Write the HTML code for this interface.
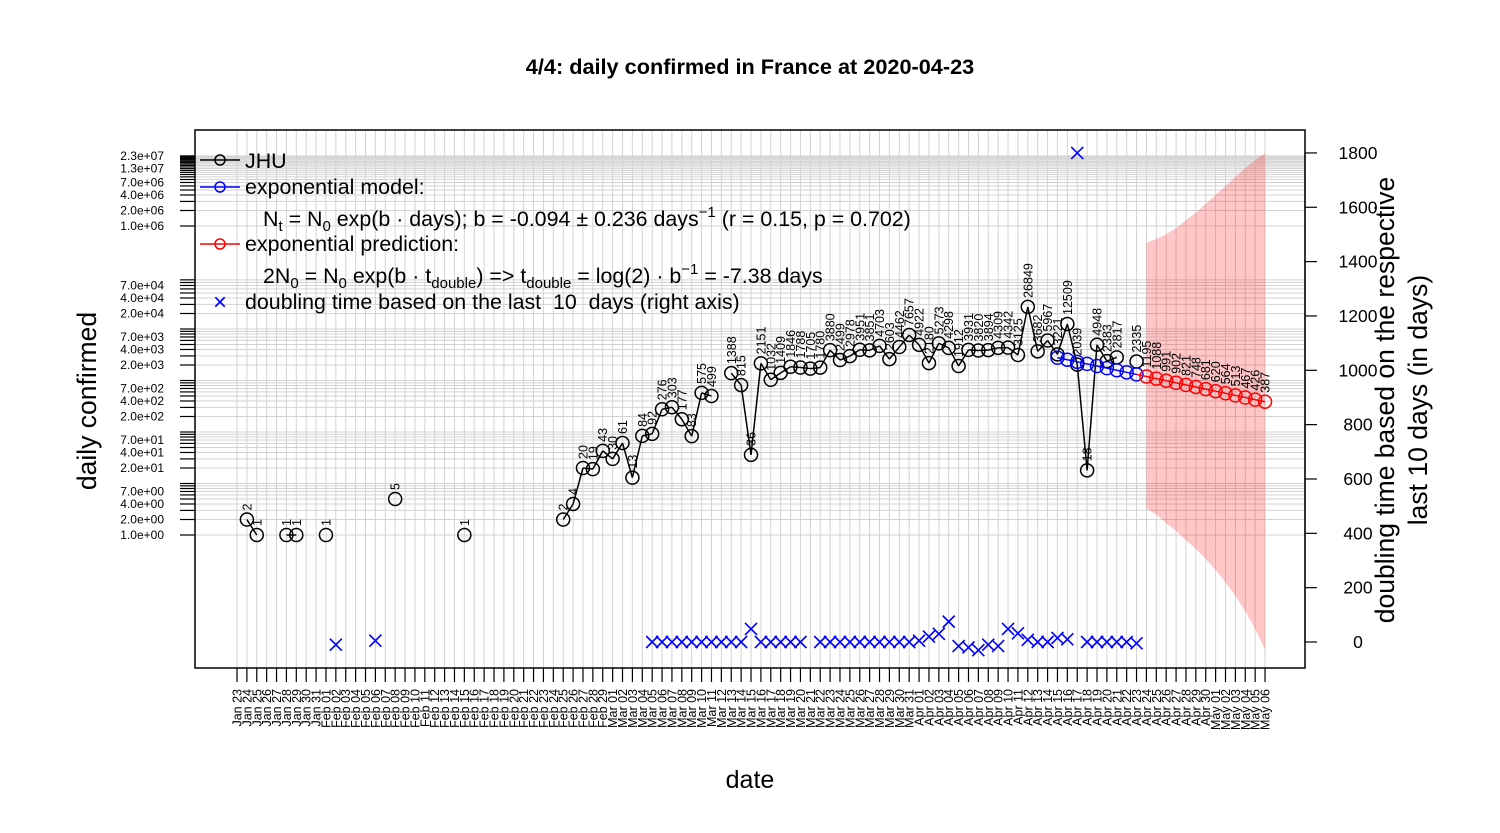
<!DOCTYPE html>
<html><head><meta charset="utf-8"><style>
body{margin:0;background:#fff}
svg{display:block;font-family:"Liberation Sans",sans-serif}
svg text{white-space:pre}
</style></head><body>
<svg id="chart" width="1500" height="833" viewBox="0 0 1500 833" xmlns="http://www.w3.org/2000/svg" xml:space="preserve">
<text x="750" y="74" text-anchor="middle" font-size="21.7" font-weight="bold">4/4: daily confirmed in France at 2020-04-23</text>
<g id="grid"></g>
<g id="band"></g>
<g id="marks"></g>
<rect x="195" y="130" width="1110" height="538" fill="none" stroke="#000" stroke-width="1.5"/>
<g id="axes"></g>
<text transform="translate(96,401) rotate(-90)" text-anchor="middle" font-size="26.5">daily confirmed</text>
<text transform="translate(1394,400) rotate(-90)" text-anchor="middle" font-size="26.5">doubling time based on the respective</text>
<text transform="translate(1427,400) rotate(-90)" text-anchor="middle" font-size="26.5">last 10 days (in days)</text>
<text x="750" y="788" text-anchor="middle" font-size="25">date</text>
<g font-size="21.4">
 <line x1="200" y1="160" x2="240" y2="160" stroke="#000" stroke-width="1.5"/><circle cx="220" cy="160" r="5" fill="none" stroke="#000" stroke-width="1.5"/>
 <text x="245" y="168">JHU</text>
 <line x1="200" y1="187" x2="240" y2="187" stroke="#00f" stroke-width="1.5"/><circle cx="220" cy="187" r="5" fill="none" stroke="#00f" stroke-width="1.5"/>
 <text x="245" y="194">exponential model:</text>
 <text x="263" y="226">N<tspan font-size="15" dy="5">t</tspan><tspan dy="-5"> = N</tspan><tspan font-size="15" dy="5">0</tspan><tspan dy="-5"> exp(b · days); b = -0.094 ± 0.236 days</tspan><tspan font-size="15" dy="-9">−1</tspan><tspan dy="9"> (r = 0.15, p = 0.702)</tspan></text>
 <line x1="200" y1="244" x2="240" y2="244" stroke="#f00" stroke-width="1.5"/><circle cx="220" cy="244" r="5" fill="none" stroke="#f00" stroke-width="1.5"/>
 <text x="245" y="251">exponential prediction:</text>
 <text x="263" y="283">2N<tspan font-size="15" dy="5">0</tspan><tspan dy="-5"> = N</tspan><tspan font-size="15" dy="5">0</tspan><tspan dy="-5"> exp(b · t</tspan><tspan font-size="15" dy="5">double</tspan><tspan dy="-5">) =&gt; t</tspan><tspan font-size="15" dy="5">double</tspan><tspan dy="-5"> = log(2) · b</tspan><tspan font-size="15" dy="-9">−1</tspan><tspan dy="9"> = -7.38 days</tspan></text>
 <text x="220" y="310" text-anchor="middle" fill="#00f" font-size="24">×</text>
 <text x="245" y="309">doubling time based on the last  10  days (right axis)</text>
</g>
</svg>
<script>
const dateLabels=(function(){const m=["Jan","Feb","Mar","Apr","May"],d=[31,29,31,30,31];const out=[];let mi=0,dd=23;for(let i=0;i<105;i++){out.push(m[mi]+" "+String(dd).padStart(2,"0"));dd++;if(dd>d[mi]){dd=1;mi++;}}return out;})();
const jhuDays=[1,2,5,6,9,16,23,33,34,35,36,37,38,39,40,41,42,43,44,45,46,47,48,50,51,52,53,54,55,56,57,58,59,60,61,62,63,64,65,66,67,68,69,70,71,72,73,74,75,76,77,78,79,80,81,82,83,84,85,86,87,88,89,91];
const jhuValues=[2,1,1,1,1,5,1,2,4,20,19,43,30,61,13,84,92,276,303,177,83,575,499,1388,815,36,2151,1032,1409,1846,1788,1705,1780,3880,2499,2978,3951,3851,4703,2603,4462,7657,4922,2180,5273,4298,1912,3931,3820,3894,4309,4342,3125,26849,3682,5967,3221,12509,2039,18,4948,2383,2817,2335];
const modelDays=[83,84,85,86,87,88,89,90,91];
const modelValues=[2781,2532,2305,2098,1910,1739,1583,1441,1312];
const predDays=[92,93,94,95,96,97,98,99,100,101,102,103,104];
const predValues=[1195,1088,991,902,821,748,681,620,564,513,467,426,387];
const bandUpper=[4.7e5,5.6e5,6.9e5,9.1e5,1.3e6,1.8e6,2.7e6,4.0e6,6.0e6,8.9e6,1.35e7,1.9e7,2.6e7];
const bandLower=[3.3,2.5,1.7,1.2,0.79,0.54,0.34,0.21,0.12,0.066,0.033,0.015,0.0059];
const dblDays=[10,14,42,43,44,45,46,47,48,49,50,51,52,53,54,55,56,57,59,60,61,62,63,64,65,66,67,68,69,70,71,72,73,74,75,76,77,78,79,80,81,82,83,84,85,86,87,88,89,90,91];
const dblValues=[-10,5,0,0,0,0,0,0,0,0,0,0,48,0,0,0,0,0,0,0,0,0,0,0,0,0,0,0,5,20,30,75,-15,-20,-30,-10,-15,48,32,8,0,0,15,10,1800,0,0,0,0,0,-5];
const yTickLabels=["1.0e+00","2.0e+00","4.0e+00","7.0e+00","2.0e+01","4.0e+01","7.0e+01","2.0e+02","4.0e+02","7.0e+02","2.0e+03","4.0e+03","7.0e+03","2.0e+04","4.0e+04","7.0e+04","1.0e+06","2.0e+06","4.0e+06","7.0e+06","1.3e+07","2.3e+07"];
const y2Ticks=[0,200,400,600,800,1000,1200,1400,1600,1800];

const NS="http://www.w3.org/2000/svg";
const X=i=>237+i*9.885;
const Y=v=>535-Math.log10(v)*51.5;
const Y2=v=>642-v*0.2717;
function mk(tag,attrs,parent){const e=document.createElementNS(NS,tag);for(const k in attrs)e.setAttribute(k,attrs[k]);parent.appendChild(e);return e;}
const grid=document.getElementById("grid"),axes=document.getElementById("axes"),marks=document.getElementById("marks"),band=document.getElementById("band");
const minorTicks=[];
[0,1,2,3,4,6].forEach(d=>{for(let k=1;k<=9;k++)minorTicks.push(k*Math.pow(10,d));});
for(let k=10;k<=23;k++)minorTicks.push(k*1e6);
minorTicks.forEach(v=>{
 const y=Y(v);
 const g=mk("line",{x1:195,x2:1305,y1:y,y2:y,stroke:"#d3d3d3","stroke-width":1},grid);
 
 
 const t=mk("line",{x1:180,x2:195,y1:y,y2:y,stroke:"#000","stroke-width":1.2},axes);
 
 
});
yTickLabels.forEach(s=>{
 const v=parseFloat(s);
 const t=mk("text",{x:164,y:Y(v)+4,"text-anchor":"end","font-size":12},axes);
 t.textContent=s;
 
 
});
dateLabels.forEach((s,i)=>{
 const x=X(i);
 const g=mk("line",{x1:x,x2:x,y1:130,y2:668,stroke:"#d3d3d3","stroke-width":1},grid);
 
 
 const t=mk("line",{x1:x,x2:x,y1:668,y2:682,stroke:"#000","stroke-width":1.2},axes);
 
 
 const l=mk("text",{transform:`translate(${x+4.5},689) rotate(-90)`,"text-anchor":"end","font-size":12.5},axes);
 l.textContent=s;
 
 
});
mk("line",{x1:1305,x2:1305,y1:Y2(0),y2:Y2(1800),stroke:"#000","stroke-width":1.2},axes);
y2Ticks.forEach(v=>{
 const y=Y2(v);
 const t=mk("line",{x1:1305,x2:1317,y1:y,y2:y,stroke:"#000","stroke-width":1.2},axes);
 
 
 const l=mk("text",{x:1358,y:y+6,"text-anchor":"middle","font-size":17.5},axes);
 l.textContent=String(v);
 
 
});
let pts=predDays.map((d,i)=>X(d)+","+Y(bandUpper[i]));
for(let i=predDays.length-1;i>=0;i--)pts.push(X(predDays[i])+","+Y(bandLower[i]));
const bp=mk("polygon",{points:pts.join(" "),fill:"rgba(255,0,0,0.22)",stroke:"none"},band);


function series(days,vals,color,name,labels){
 for(let i=1;i<days.length;i++){
  if(days[i]-days[i-1]===1){
   const l=mk("line",{x1:X(days[i-1]),y1:Y(vals[i-1]),x2:X(days[i]),y2:Y(vals[i]),stroke:color,"stroke-width":1.5},marks);
   
   
  }
 }
 days.forEach((d,i)=>{
  const c=mk("circle",{cx:X(d),cy:Y(vals[i]),r:6.5,fill:"none",stroke:color,"stroke-width":1.5},marks);
  
  
  if(labels){
   const t=mk("text",{transform:`translate(${X(d)+4.5},${Y(vals[i])-9}) rotate(-90)`,"font-size":12.5,fill:"#000"},marks);
   t.textContent=String(vals[i]);
   
   
  }
 });
}
series(jhuDays,jhuValues,"#000","jhu",true);
series(modelDays,modelValues,"#00f","model",false);
series(predDays,predValues,"#f00","prediction",true);
mk("line",{x1:X(91),y1:Y(1312),x2:X(92),y2:Y(1195),stroke:"#f00","stroke-width":1.5},marks);
dblDays.forEach((d,i)=>{
 const x=X(d),y=Y2(dblValues[i]);
 const g=mk("path",{d:`M${x-6},${y-6}L${x+6},${y+6}M${x-6},${y+6}L${x+6},${y-6}`,stroke:"#00f","stroke-width":1.6,fill:"none"},marks);
 
 
});
</script>
</body></html>
